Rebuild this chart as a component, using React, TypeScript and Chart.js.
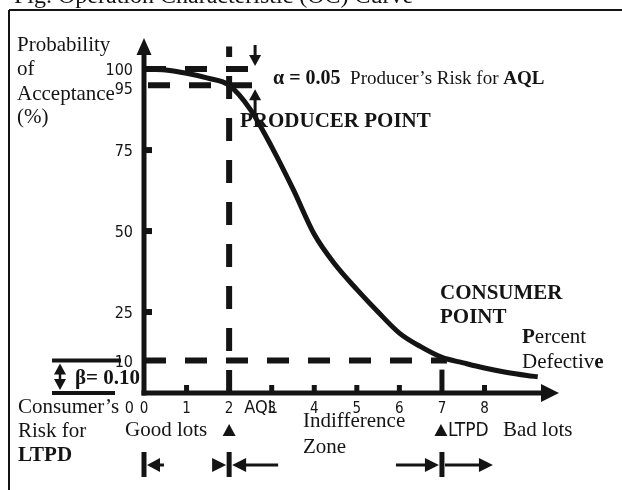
import React, { useEffect, useRef } from 'react';
import { Chart, registerables } from 'chart.js';

Chart.register(...registerables);

// ---- data ----
const percentDefective = [0, 0.5, 1, 1.5, 2, 2.5, 3, 3.5, 4, 4.5, 5, 5.5, 6, 6.5, 7, 7.5, 8, 8.5, 9, 9.25];
const probAcceptance = [100, 99.7, 98.7, 97.2, 95, 87.5, 76, 63, 49, 39.5, 32, 25, 18.5, 14.3, 11, 9.3, 7.7, 6.4, 5.4, 5];
const xTickValues = [0, 1, 2, 3, 4, 5, 6, 7, 8];
const xTickLabels = ['0', '1', '2', '3', '4', '5', '6', '7', '8'];
const yTickValues = [100, 95, 75, 50, 25, 10];
const yTickLabels = ['100', '95', '75', '50', '25', '10'];
const yZeroLabel = '0';
const yMinorTicks = [75, 50, 25];
const xMinorTicks = [1, 3, 4, 5, 6, 8];
const AQL = 2;
const LTPD = 7;
const PRODUCER_PA = 95;
const CONSUMER_PA = 10;
const TOP_PA = 100;
const X_MAX = 9.75;
const Y_MAX = 109.6;

const INK = '#141414';
const SERIF = "'Liberation Serif', 'Times New Roman', serif";
const NARROW = "'Liberation Sans Narrow', 'DejaVu Sans Condensed', 'Arial Narrow', sans-serif";

function arrowHead(ctx: CanvasRenderingContext2D, tipX: number, tipY: number, dir: 'up' | 'down' | 'left' | 'right', len: number, half: number) {
  ctx.beginPath();
  ctx.moveTo(tipX, tipY);
  if (dir === 'up') { ctx.lineTo(tipX - half, tipY + len); ctx.lineTo(tipX + half, tipY + len); }
  if (dir === 'down') { ctx.lineTo(tipX - half, tipY - len); ctx.lineTo(tipX + half, tipY - len); }
  if (dir === 'left') { ctx.lineTo(tipX + len, tipY - half); ctx.lineTo(tipX + len, tipY + half); }
  if (dir === 'right') { ctx.lineTo(tipX - len, tipY - half); ctx.lineTo(tipX - len, tipY + half); }
  ctx.closePath();
  ctx.fill();
}

function line(ctx: CanvasRenderingContext2D, x1: number, y1: number, x2: number, y2: number) {
  ctx.beginPath();
  ctx.moveTo(x1, y1);
  ctx.lineTo(x2, y2);
  ctx.stroke();
}

function runs(ctx: CanvasRenderingContext2D, x: number, y: number, parts: [string, boolean, number][]) {
  let cx = x;
  for (const [t, bold, size] of parts) {
    ctx.font = `${bold ? 'bold ' : ''}${size}px ${SERIF}`;
    ctx.fillText(t, cx, y);
    cx += ctx.measureText(t).width;
  }
}

const decorPlugin = {
  id: 'ocDecor',
  beforeDatasetsDraw(chart: any) {
    const { ctx, scales } = chart;
    const xs = scales.x;
    const ys = scales.y;
    const px = (v: number) => xs.getPixelForValue(v);
    const py = (v: number) => ys.getPixelForValue(v);
    const x0 = px(0);
    const y0 = py(0);
    ctx.save();
    ctx.fillStyle = INK;
    ctx.strokeStyle = INK;

    // frame
    ctx.lineWidth = 2;
    ctx.setLineDash([]);
    line(ctx, 9, 10, 622, 10);
    line(ctx, 9, 10, 9, 490);

    // dashed reference lines
    ctx.lineWidth = 6;
    ctx.setLineDash([22, 19]);
    line(ctx, x0, py(TOP_PA), px(2.66), py(TOP_PA));
    line(ctx, x0 + 4, py(PRODUCER_PA), px(2.66), py(PRODUCER_PA));
    line(ctx, x0, py(CONSUMER_PA), px(LTPD) + 5, py(CONSUMER_PA));
    ctx.setLineDash([23, 19]);
    line(ctx, px(AQL), y0, px(AQL), py(107));

    // axes
    ctx.setLineDash([]);
    ctx.lineWidth = 5;
    line(ctx, x0, y0 + 2.5, x0, chart.chartArea.top + 15);
    arrowHead(ctx, x0, chart.chartArea.top, 'up', 17, 7.5);
    line(ctx, x0 - 2.5, y0, chart.chartArea.right - 15, y0);
    arrowHead(ctx, chart.chartArea.right, y0, 'right', 18, 9);

    // ticks
    for (const v of xMinorTicks) ctx.fillRect(px(v) - 2.5, y0 - 8, 5, 8);
    ctx.fillRect(px(LTPD) - 2.5, py(CONSUMER_PA) + 9, 5, y0 - py(CONSUMER_PA) - 9);
    for (const v of yMinorTicks) ctx.fillRect(x0 + 2, py(v) - 3, 6, 6);

    // producer risk arrows
    ctx.lineWidth = 3;
    const ax = px(2.61);
    line(ctx, ax, 45, ax, py(TOP_PA) - 12);
    arrowHead(ctx, ax, py(TOP_PA) - 3, 'down', 11, 6);
    line(ctx, ax, py(PRODUCER_PA) + 12, ax, 118);
    arrowHead(ctx, ax, py(PRODUCER_PA) + 4, 'up', 11, 6);

    // beta bracket
    ctx.lineWidth = 4;
    line(ctx, 52, py(CONSUMER_PA), 121, py(CONSUMER_PA));
    line(ctx, 52, y0, 115, y0);
    ctx.lineWidth = 2.5;
    line(ctx, 60, py(CONSUMER_PA) + 10, 60, y0 - 10);
    arrowHead(ctx, 60, py(CONSUMER_PA) + 3, 'up', 11, 6);
    arrowHead(ctx, 60, y0 - 3, 'down', 11, 6);

    ctx.restore();
  },
  afterDatasetsDraw(chart: any) {
    const { ctx, scales } = chart;
    const xs = scales.x;
    const ys = scales.y;
    const px = (v: number) => xs.getPixelForValue(v);
    const py = (v: number) => ys.getPixelForValue(v);
    const x0 = px(0);
    const y0 = py(0);
    ctx.save();
    ctx.fillStyle = INK;
    ctx.strokeStyle = INK;
    ctx.textBaseline = 'alphabetic';

    // title (cut off by the top edge)
    ctx.textAlign = 'left';
    ctx.font = `24px ${SERIF}`;
    ctx.fillText('Fig. Operation Characteristic (OC) Curve', 14, 3);

    // y axis title
    ctx.font = `21px ${SERIF}`;
    ctx.fillText('Probability', 17, 51);
    ctx.fillText('of', 17, 75);
    ctx.fillText('Acceptance', 17, 100);
    ctx.fillText('(%)', 17, 123);

    // y tick labels
    ctx.textAlign = 'right';
    ctx.font = `16px ${NARROW}`;
    yTickValues.forEach((v, i) => {
      const off = v === PRODUCER_PA ? 9 : 6;
      ctx.fillText(yTickLabels[i], x0 - 11, py(v) + off);
    });
    ctx.fillText(yZeroLabel, x0 - 10, y0 + 20);

    // x tick labels
    ctx.textAlign = 'center';
    ctx.font = `15px ${NARROW}`;
    xTickValues.forEach((v, i) => {
      ctx.fillText(xTickLabels[i], px(v), y0 + 20);
    });
    ctx.textAlign = 'left';
    ctx.font = `18px ${NARROW}`;
    ctx.fillText('AQL', px(AQL) + 15, y0 + 20);

    // alpha / producer
    runs(ctx, 273, 84, [['α = 0.05', true, 20], ['  Producer’s Risk for ', false, 19], ['AQL', true, 19]]);
    runs(ctx, 240, 127, [['PRODUCER POINT', true, 21]]);

    // consumer point
    runs(ctx, 440, 299, [['CONSUMER', true, 21]]);
    runs(ctx, 440, 323, [['POINT', true, 21]]);
    runs(ctx, 522, 343, [['P', true, 21], ['ercent', false, 21]]);
    runs(ctx, 522, 368, [['Defectiv', false, 21], ['e', true, 21]]);

    // beta
    ctx.textAlign = 'right';
    ctx.font = `bold 21px ${SERIF}`;
    ctx.fillText('β= 0.10', 140, 384);
    ctx.textAlign = 'left';

    // consumer's risk
    runs(ctx, 18, 413, [['Consumer’s', false, 21]]);
    runs(ctx, 18, 437, [['Risk for', false, 21]]);
    runs(ctx, 18, 461, [['LTPD', true, 21]]);

    // zones
    runs(ctx, 125, 436, [['Good lots', false, 21]]);
    runs(ctx, 303, 427, [['Indifference', false, 21]]);
    runs(ctx, 303, 453, [['Zone', false, 21]]);
    ctx.font = `19px ${NARROW}`;
    ctx.fillText('LTPD', px(LTPD) + 6, 436);
    runs(ctx, 503, 436, [['Bad lots', false, 21]]);

    // markers
    arrowHead(ctx, px(AQL), 424, 'up', 12, 6.5);
    arrowHead(ctx, px(LTPD) - 1, 424, 'up', 12, 6.5);

    // bottom zone arrows
    const ay = 465;
    ctx.fillRect(x0 - 2.5, 452, 5, 25);
    ctx.fillRect(px(AQL) - 2.5, 452, 5, 25);
    ctx.fillRect(px(LTPD) - 2.5, 452, 5, 25);
    ctx.lineWidth = 3;
    arrowHead(ctx, x0 + 3, ay, 'left', 13, 7);
    line(ctx, x0 + 14, ay, x0 + 20, ay);
    arrowHead(ctx, px(AQL) - 3, ay, 'right', 14, 7);
    arrowHead(ctx, px(AQL) + 3, ay, 'left', 14, 7);
    line(ctx, px(AQL) + 15, ay, px(AQL) + 49, ay);
    line(ctx, px(LTPD) - 46, ay, px(LTPD) - 14, ay);
    arrowHead(ctx, px(LTPD) - 3, ay, 'right', 14, 7);
    line(ctx, px(LTPD) + 3, ay, px(LTPD) + 38, ay);
    arrowHead(ctx, px(LTPD) + 51, ay, 'right', 14, 7);

    ctx.restore();
  },
};

export default function App() {
  const ref = useRef<HTMLCanvasElement>(null);
  useEffect(() => {
    const canvas = ref.current;
    if (!canvas) return;
    const chart = new Chart(canvas, {
      type: 'line',
      data: {
        datasets: [
          {
            label: 'OC curve',
            data: percentDefective.map((x, i) => ({ x, y: probAcceptance[i] })),
            borderColor: INK,
            borderWidth: 5,
            pointRadius: 0,
            fill: false,
            cubicInterpolationMode: 'monotone',
          },
        ],
      },
      options: {
        responsive: false,
        devicePixelRatio: 1,
        animation: false,
        layout: { padding: { left: 144, right: 63, top: 38, bottom: 97 } },
        plugins: { legend: { display: false }, tooltip: { enabled: false } },
        scales: {
          x: { type: 'linear', min: 0, max: X_MAX, display: false },
          y: { type: 'linear', min: 0, max: Y_MAX, display: false },
        },
      },
      plugins: [decorPlugin],
    } as any);
    return () => chart.destroy();
  }, []);
  return (
    <div style={{ position: 'fixed', left: 0, top: 0, width: 622, height: 490, background: '#fff' }}>
      <canvas ref={ref} width={622} height={490} style={{ width: 622, height: 490, display: 'block' }} />
    </div>
  );
}
